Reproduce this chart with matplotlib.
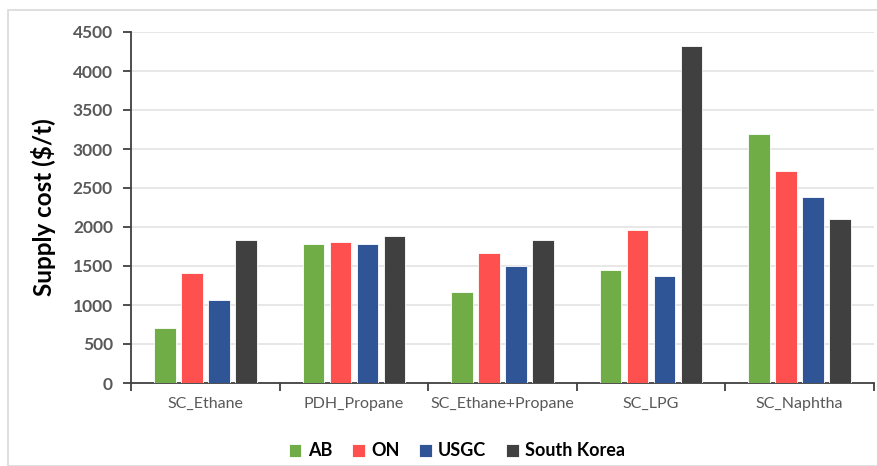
import matplotlib
matplotlib.use('Agg')
import matplotlib.pyplot as plt
import numpy as np
from matplotlib.patches import Rectangle

categories = ['SC_Ethane', 'PDH_Propane', 'SC_Ethane+Propane', 'SC_LPG', 'SC_Naphtha']
ab = [700, 1780, 1170, 1445, 3195]
on = [1405, 1810, 1665, 1960, 2720]
usgc = [1060, 1780, 1505, 1370, 2390]
south_korea = [1830, 1885, 1830, 4325, 2100]

series = [('AB', ab, '#70AD47'), ('ON', on, '#FF5050'),
          ('USGC', usgc, '#2F5597'), ('South Korea', south_korea, '#404040')]

plt.rcParams['font.family'] = ['Lato', 'DejaVu Sans']

fig = plt.figure(figsize=(8.78, 4.66), dpi=100)
fig.patches.append(Rectangle((8 / 878, 0), 1, 1 - 10 / 466, transform=fig.transFigure,
                             fill=False, edgecolor='#d9d9d9', lw=1.2))
ax = fig.add_axes([131 / 878, 1 - 383 / 466, (874 - 131) / 878, (383 - 32) / 466])

x = np.arange(len(categories))
w = 0.145
step = 0.182
for i, (name, vals, col) in enumerate(series):
    ax.bar(x + (i - 1.5) * step, vals, w, color=col, label=name,
           edgecolor='white', linewidth=0.6, zorder=3)

ax.set_xlim(-0.5, len(categories) - 0.5)
ax.set_ylim(0, 4500)
ax.set_yticks(range(0, 4501, 500))
ax.yaxis.grid(True, color='#e3e3e3', lw=1.2, zorder=0)
ax.set_axisbelow(True)

for s in ['top', 'right']:
    ax.spines[s].set_visible(False)
for s in ['left', 'bottom']:
    ax.spines[s].set_color('#404040')
    ax.spines[s].set_linewidth(1.3)

ax.set_xticks(x)
ax.set_xticklabels(categories, fontsize=11.5, color='#595959')
ax.tick_params(axis='x', length=0, pad=10)
ax.set_xticks(np.arange(-0.5, len(categories)), minor=True)
ax.tick_params(axis='x', which='minor', length=6, color='#404040', width=1.3, direction='out')
ax.tick_params(axis='y', length=6, color='#404040', width=1.3, direction='out',
               labelsize=12.5, labelcolor='#595959', pad=7)
for lab in ax.get_yticklabels():
    lab.set_fontweight('bold')

ax.set_ylabel('Supply cost ($/t)', fontsize=17.5, fontweight='bold', labelpad=12)

handles, labels = ax.get_legend_handles_labels()
fig.legend(handles, labels, loc='center', bbox_to_anchor=(457 / 878, 1 - 451 / 466), ncol=4,
           frameon=False, prop={'weight': 'bold', 'size': 13}, handlelength=0.7,
           handleheight=0.7, handletextpad=0.35, columnspacing=1.1)

fig.savefig('out.png', dpi=100)
